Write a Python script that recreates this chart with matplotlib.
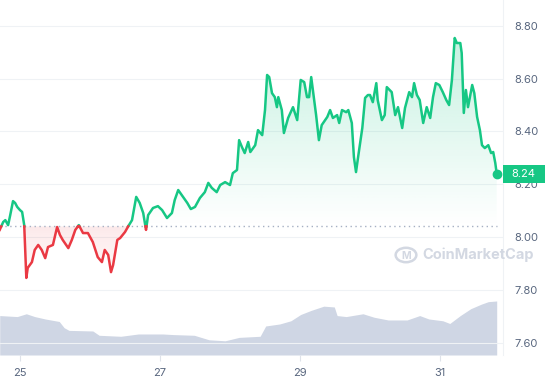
import numpy as np
import matplotlib
matplotlib.use("Agg")
import matplotlib.pyplot as plt
from matplotlib.path import Path
from matplotlib.patches import PathPatch, Circle
import matplotlib.transforms as mtransforms

plt.rcParams['font.family'] = ['Inter', 'DejaVu Sans']

# price series (day of month, price)
days = [24.71, 24.76, 24.79, 24.83, 24.86, 24.90, 24.93, 24.96, 25.00, 25.03,
        25.06, 25.09, 25.11, 25.17, 25.21, 25.26, 25.31, 25.36, 25.40, 25.47,
        25.53, 25.57, 25.61, 25.69, 25.74, 25.79, 25.84, 25.90, 25.97, 26.04,
        26.11, 26.17, 26.21, 26.26, 26.30, 26.33, 26.39, 26.43, 26.50, 26.54,
        26.60, 26.66, 26.71, 26.76, 26.80, 26.83, 26.90, 26.97, 27.03, 27.10,
        27.17, 27.21, 27.26, 27.33, 27.39, 27.44, 27.50, 27.57, 27.64, 27.69,
        27.74, 27.81, 27.86, 27.93, 28.00, 28.04, 28.10, 28.13, 28.17, 28.21,
        28.26, 28.29, 28.36, 28.40, 28.46, 28.50, 28.53, 28.56, 28.60, 28.64,
        28.67, 28.69, 28.74, 28.77, 28.83, 28.90, 28.96, 29.01, 29.06, 29.10,
        29.13, 29.16, 29.19, 29.23, 29.27, 29.31, 29.39, 29.43, 29.47, 29.53,
        29.56, 29.60, 29.66, 29.69, 29.74, 29.77, 29.80, 29.83, 29.89, 29.93,
        29.97, 30.00, 30.04, 30.09, 30.11, 30.17, 30.21, 30.24, 30.31, 30.36,
        30.40, 30.46, 30.50, 30.56, 30.60, 30.63, 30.67, 30.71, 30.76, 30.81,
        30.86, 30.90, 30.94, 30.99, 31.04, 31.09, 31.13, 31.17, 31.21, 31.24,
        31.29, 31.31, 31.34, 31.37, 31.40, 31.46, 31.49, 31.53, 31.57, 31.60,
        31.64, 31.69, 31.73, 31.76, 31.79, 31.81]
prices = [8.027, 8.057, 8.064, 8.045, 8.083, 8.136, 8.129, 8.114, 8.102, 8.095,
          8.045, 7.845, 7.883, 7.905, 7.951, 7.970, 7.951, 7.920, 7.962, 7.970,
          8.038, 8.008, 7.989, 7.958, 7.989, 8.027, 8.045, 8.015, 8.015, 7.981,
          7.924, 7.905, 7.951, 7.932, 7.867, 7.894, 7.989, 7.996, 8.019, 8.038,
          8.064, 8.152, 8.129, 8.091, 8.027, 8.083, 8.110, 8.117, 8.102, 8.072,
          8.091, 8.140, 8.178, 8.152, 8.129, 8.106, 8.114, 8.148, 8.170, 8.205,
          8.186, 8.170, 8.197, 8.208, 8.197, 8.242, 8.254, 8.367, 8.341, 8.318,
          8.360, 8.322, 8.348, 8.405, 8.386, 8.481, 8.614, 8.606, 8.545, 8.530,
          8.492, 8.530, 8.481, 8.394, 8.451, 8.492, 8.443, 8.595, 8.587, 8.530,
          8.530, 8.606, 8.545, 8.462, 8.367, 8.424, 8.455, 8.481, 8.451, 8.462,
          8.432, 8.481, 8.473, 8.481, 8.432, 8.303, 8.246, 8.303, 8.413, 8.527,
          8.538, 8.538, 8.511, 8.583, 8.519, 8.443, 8.462, 8.568, 8.549, 8.462,
          8.492, 8.413, 8.489, 8.549, 8.530, 8.583, 8.538, 8.519, 8.432, 8.492,
          8.451, 8.530, 8.583, 8.576, 8.549, 8.519, 8.500, 8.595, 8.754, 8.735,
          8.735, 8.697, 8.470, 8.557, 8.492, 8.576, 8.545, 8.455, 8.405, 8.348,
          8.337, 8.348, 8.318, 8.322, 8.280, 8.240]
baseline = 8.04
last_label = "8.24"

# volume series (relative, same days axis)
vol_days = [24.71, 24.96, 25.09, 25.21, 25.36, 25.56, 25.63, 25.70, 26.04, 26.13,
            26.44, 26.69, 27.04, 27.19, 27.49, 27.70, 27.93, 28.13, 28.43, 28.51,
            28.71, 28.87, 29.01, 29.16, 29.34, 29.49, 29.53, 29.66, 29.90, 30.06,
            30.26, 30.53, 30.71, 30.84, 31.04, 31.14, 31.29, 31.44, 31.59, 31.69,
            31.81]
volumes = [39.4, 38.4, 41.2, 38.4, 36.0, 33.5, 27.3, 24.6, 24.0, 19.7,
           18.7, 21.0, 21.0, 20.4, 19.7, 15.2, 14.2, 17.6, 18.7, 29.0,
           31.0, 34.2, 40.5, 44.6, 48.8, 48.0, 39.4, 38.4, 41.2, 37.7,
           35.0, 35.0, 39.4, 36.0, 34.2, 31.5, 39.4, 46.3, 50.8, 53.3,
           54.0]

x_ticks = [25, 27, 29, 31]
y_ticks = [7.60, 7.80, 8.00, 8.20, 8.40, 8.60, 8.80]

GREEN = "#16c784"
RED = "#ea3943"
TXT = "#58667e"

t = np.array(days)
p = np.array(prices)

fig = plt.figure(figsize=(5.45, 3.80), dpi=100)
ax = fig.add_axes([0, 25 / 380, 503 / 545, 355 / 380])
vax = ax.twinx()
ax.set_zorder(2)
ax.patch.set_visible(False)

xmin, xmax = 24.714, 31.9
ymin, ymax = 7.553, 8.898
ax.set_xlim(xmin, xmax)
ax.set_ylim(ymin, ymax)

# volume
vax.fill_between(vol_days, volumes, 0, color="#cfd6e4", lw=0)
vax.set_ylim(0, max(volumes) * 6.57)
vax.set_yticks([])
for s in vax.spines.values():
    s.set_visible(False)

# grid
for yv in y_ticks:
    ax.axhline(yv, color="#eff2f5", lw=0.8, zorder=0)

# gradient fills
def grad_fill(where, lo, hi, rgb, a_lo, a_hi):
    coll = ax.fill_between(t, p, baseline, where=where, interpolate=True,
                           color="none", lw=0)
    comp = Path.make_compound_path(*coll.get_paths())
    patch = PathPatch(comp, transform=ax.transData, facecolor="none",
                      edgecolor="none")
    ax.add_patch(patch)
    n = 256
    img = np.zeros((n, 1, 4))
    c = matplotlib.colors.to_rgb(rgb)
    img[:, 0, 0], img[:, 0, 1], img[:, 0, 2] = c
    img[:, 0, 3] = np.linspace(a_lo, a_hi, n)
    im = ax.imshow(img, extent=[xmin, xmax, lo, hi], origin="lower",
                   aspect="auto", zorder=1, interpolation="bilinear")
    im.set_clip_path(patch)

grad_fill(p >= baseline, baseline, 8.80, GREEN, 0.0, 0.26)
grad_fill(p <= baseline, 7.84, baseline, RED, 0.02, 0.11)
ax.set_xlim(xmin, xmax)
ax.set_ylim(ymin, ymax)

# split line at baseline crossings
tt, pp = [t[0]], [p[0]]
for i in range(1, len(t)):
    if (p[i - 1] - baseline) * (p[i] - baseline) < 0:
        f = (baseline - p[i - 1]) / (p[i] - p[i - 1])
        tt.append(t[i - 1] + f * (t[i] - t[i - 1]))
        pp.append(baseline)
    tt.append(t[i])
    pp.append(p[i])
tt = np.array(tt)
pp = np.array(pp)
ax.plot(tt, np.where(pp >= baseline, pp, np.nan), color=GREEN, lw=1.8,
        zorder=4, solid_joinstyle="round")
ax.plot(tt, np.where(pp <= baseline, pp, np.nan), color=RED, lw=1.8,
        zorder=4, solid_joinstyle="round")
ax.plot([t[-1]], [p[-1]], "o", color=GREEN, ms=6, zorder=5)

ax.plot([xmin, t[-1]], [baseline, baseline], color="#a6b0c3", lw=1,
        linestyle=(0, (1, 2.5)), zorder=3)

# axes styling
for k, s in ax.spines.items():
    s.set_visible(k == "right")
ax.spines["right"].set_color("#eff2f5")
ax.set_xticks(x_ticks)
ax.set_xticklabels([str(d) for d in x_ticks])
ax.tick_params(axis="x", length=4, color="#dfe3ea", labelcolor=TXT,
               labelsize=8, pad=5)
ax.yaxis.tick_right()
ax.set_yticks(y_ticks)
ax.set_yticklabels(["%.2f" % v for v in y_ticks])
ax.tick_params(axis="y", length=0, labelcolor=TXT, labelsize=8, pad=8)

# last price label
trans = mtransforms.blended_transform_factory(fig.transFigure, ax.transData)
ax.add_patch(matplotlib.patches.Rectangle((503 / 545, p[-1] - 0.034), 42 / 545, 0.068,
             transform=trans, facecolor=GREEN, edgecolor="none",
             zorder=6, clip_on=False))
ax.text(523 / 545, p[-1], last_label, transform=trans, color="white",
        fontsize=8, ha="center", va="center", zorder=7, clip_on=False)

# watermark
fig.text(422 / 545, 1 - 255 / 380, "CoinMarketCap", color="#d3d8e2",
         fontsize=10.5, fontweight="bold", ha="left", va="center")
fig.add_artist(Circle((406 / 545, 1 - 255 / 380), 0.019, transform=fig.transFigure,
                      facecolor="none", edgecolor="#d3d8e2", lw=1.8))
fig.text(406 / 545, 1 - 256 / 380, "M", color="#d3d8e2", fontsize=7.5,
         fontweight="bold", ha="center", va="center")

fig.savefig("out.png", dpi=100)
